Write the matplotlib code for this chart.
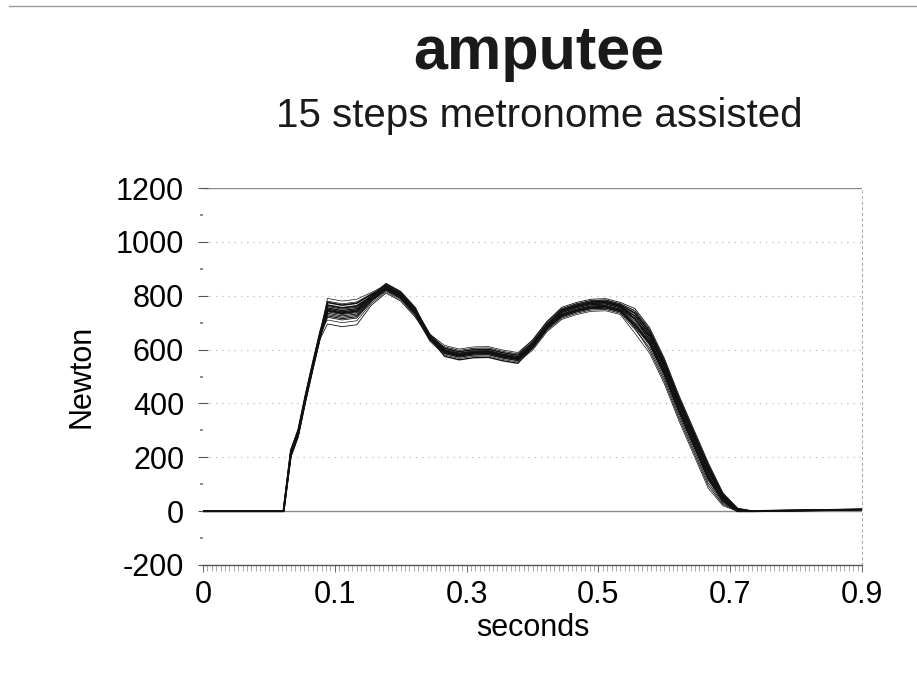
import matplotlib
matplotlib.use("Agg")
import matplotlib.pyplot as plt
from matplotlib.lines import Line2D
from matplotlib.ticker import MultipleLocator, FixedLocator

plt.rcParams['font.family'] = ['Liberation Sans', 'DejaVu Sans']

# Sample times (s) shared by all steps
t = [0.00, 0.11, 0.12, 0.13, 0.14, 0.15, 0.16, 0.17, 0.19, 0.21, 0.23, 0.25, 0.27,
     0.29, 0.31, 0.33, 0.35, 0.37, 0.39, 0.41, 0.43, 0.45, 0.47, 0.49, 0.51, 0.53,
     0.55, 0.57, 0.59, 0.61, 0.63, 0.65, 0.67, 0.69, 0.71, 0.73, 0.75, 0.80, 0.90]

# Vertical ground reaction force (N), one list per step
step01 = [0, 0, 225, 300, 430, 550, 665, 790, 780, 787, 812, 840, 810, 750, 655, 605, 592, 600, 601, 588, 579, 630, 700, 752, 770, 782, 784, 770, 745, 676, 563, 425, 300, 175, 65, 10, 0, 2, 6]
step02 = [0, 0, 205, 280, 410, 530, 645, 775, 765, 772, 805, 835, 805, 745, 645, 590, 577, 585, 586, 573, 564, 617, 687, 742, 760, 772, 774, 760, 725, 656, 543, 405, 280, 155, 55, 5, 0, 2, 6]
step03 = [0, 0, 220, 295, 425, 545, 660, 760, 750, 757, 797, 825, 795, 735, 645, 600, 587, 595, 596, 583, 574, 617, 687, 732, 750, 762, 764, 750, 705, 636, 523, 385, 260, 135, 45, 0, 0, 2, 6]
step04 = [0, 0, 215, 290, 420, 540, 655, 745, 735, 742, 790, 830, 800, 740, 645, 595, 582, 590, 591, 578, 569, 612, 682, 727, 745, 757, 759, 745, 695, 626, 513, 375, 250, 125, 40, 0, 0, 2, 6]
step05 = [0, 0, 210, 285, 415, 535, 650, 730, 720, 727, 782, 820, 790, 730, 635, 585, 572, 580, 581, 568, 559, 602, 672, 717, 735, 747, 749, 735, 675, 606, 493, 355, 230, 105, 30, 0, 0, 2, 6]
step06 = [0, 0, 230, 305, 435, 555, 670, 710, 700, 707, 772, 815, 785, 725, 630, 580, 567, 575, 576, 563, 554, 597, 667, 712, 730, 742, 744, 730, 660, 586, 473, 335, 210, 85, 20, 0, 0, 2, 6]
step07 = [0, 0, 200, 275, 405, 525, 640, 695, 685, 692, 765, 810, 780, 720, 640, 610, 597, 605, 606, 593, 584, 635, 705, 757, 775, 787, 789, 775, 752, 681, 568, 430, 305, 180, 68, 11, 0, 2, 6]
step08 = [0, 0, 220, 295, 425, 545, 660, 750, 740, 747, 800, 845, 815, 755, 642, 575, 562, 570, 571, 558, 549, 608, 678, 737, 755, 767, 769, 755, 715, 646, 533, 395, 270, 145, 50, 2, 0, 2, 6]
step09 = [0, 0, 210, 285, 415, 535, 650, 740, 730, 737, 790, 835, 805, 745, 650, 600, 587, 595, 596, 583, 574, 612, 682, 722, 740, 752, 754, 740, 685, 616, 503, 365, 240, 115, 35, 0, 0, 2, 6]
step10 = [0, 0, 225, 300, 430, 550, 665, 765, 755, 762, 797, 825, 795, 735, 643, 595, 582, 590, 591, 578, 569, 622, 692, 747, 765, 777, 779, 765, 735, 666, 553, 415, 290, 165, 60, 8, 0, 2, 6]
step11 = [0, 0, 205, 280, 410, 530, 645, 720, 710, 717, 778, 830, 800, 740, 643, 590, 577, 585, 586, 573, 564, 610, 680, 727, 745, 757, 759, 745, 680, 596, 483, 345, 220, 95, 25, 0, 0, 2, 6]
step12 = [0, 0, 215, 290, 420, 540, 655, 755, 745, 752, 795, 840, 810, 750, 655, 605, 592, 600, 601, 588, 579, 625, 695, 742, 760, 772, 774, 760, 715, 636, 523, 385, 260, 135, 45, 0, 0, 2, 6]
step13 = [0, 0, 220, 295, 425, 545, 660, 735, 725, 732, 785, 825, 795, 735, 637, 585, 572, 580, 581, 568, 559, 610, 680, 732, 750, 762, 764, 750, 712, 651, 538, 400, 275, 150, 52, 4, 0, 2, 6]
step14 = [0, 0, 210, 285, 415, 535, 650, 780, 770, 777, 807, 835, 805, 745, 657, 615, 602, 610, 611, 598, 589, 635, 705, 752, 770, 782, 784, 770, 742, 671, 558, 420, 295, 170, 62, 9, 0, 2, 6]
step15 = [0, 0, 215, 290, 420, 540, 655, 725, 715, 722, 780, 820, 790, 730, 637, 590, 577, 585, 586, 573, 564, 607, 677, 722, 740, 752, 754, 740, 687, 621, 508, 370, 245, 120, 38, 0, 0, 2, 6]

steps = [step01, step02, step03, step04, step05, step06, step07, step08,
         step09, step10, step11, step12, step13, step14, step15]

x_tick_labels = ["0", "0.1", "0.3", "0.5", "0.7", "0.9"]
y_ticks = [-200, 0, 200, 400, 600, 800, 1000, 1200]

fig = plt.figure(figsize=(9.17, 6.85), dpi=100)
ax = fig.add_axes([203 / 917, 1 - 565 / 685, (862 - 203) / 917, (565 - 188) / 685])

# step traces: mostly fine strokes with a few heavier ones
widths = [0.5, 1.2, 0.6, 1.5, 0.6, 0.5, 0.6, 1.0, 0.6, 1.3, 0.6, 1.0, 0.7, 0.5, 0.8]
for vals, lw in zip(steps, widths):
    ax.plot(t, vals, color="#111111", lw=lw, solid_joinstyle="round", zorder=3)

ax.set_xlim(0, 0.9)
ax.set_ylim(-200, 1200)

# horizontal guides
for y in [200, 400, 600, 800, 1000]:
    ax.axhline(y, color="#bdbdbd", lw=0.9, ls=(0, (1, 4)), zorder=1)
ax.axhline(1200, color="#8a8a8a", lw=1.0, zorder=1)
ax.axhline(0, color="#8a8a8a", lw=1.0, zorder=2)

for side in ["left", "top"]:
    ax.spines[side].set_visible(False)
ax.spines["right"].set_color("#b0b0b0")
ax.spines["right"].set_linestyle((0, (2, 3)))
ax.spines["right"].set_linewidth(0.8)
ax.spines["bottom"].set_color("#555555")
ax.spines["bottom"].set_linewidth(1.0)

ax.yaxis.set_major_locator(FixedLocator(y_ticks))
ax.yaxis.set_minor_locator(MultipleLocator(100))
ax.set_yticklabels([str(v) for v in y_ticks])
ax.tick_params(axis="y", which="major", direction="inout", length=7, width=0.8,
               color="#555555", labelsize=22, pad=10)
ax.tick_params(axis="y", which="minor", direction="out", length=2, width=1.2,
               color="#777777")

n_lab = len(x_tick_labels)
ax.xaxis.set_major_locator(FixedLocator([0.9 * i / (n_lab - 1) for i in range(n_lab)]))
ax.set_xticklabels(x_tick_labels)
ax.xaxis.set_minor_locator(MultipleLocator(0.006))
ax.tick_params(axis="x", which="major", direction="out", length=5, width=0.7,
               color="#666666", labelsize=22, pad=6)
ax.tick_params(axis="x", which="minor", direction="out", length=4, width=0.5,
               color="#888888")

ax.set_xlabel("seconds", fontsize=22, labelpad=2)
ax.set_ylabel("Newton", fontsize=22, labelpad=14)

fig.text(539 / 917, 1 - 54 / 685, "amputee", fontsize=44, fontweight="bold",
         ha="center", va="center", color="#1a1a1a")
fig.text(539 / 917, 1 - 116 / 685, "15 steps metronome assisted", fontsize=29,
         ha="center", va="center", color="#1a1a1a")

# thin border line along the top of the sheet
fig.add_artist(Line2D([0.01, 1.0], [1 - 6 / 685, 1 - 6 / 685], color="#9a9a9a",
                      lw=1.0, transform=fig.transFigure))

fig.savefig("out.png", dpi=100, facecolor="white")
